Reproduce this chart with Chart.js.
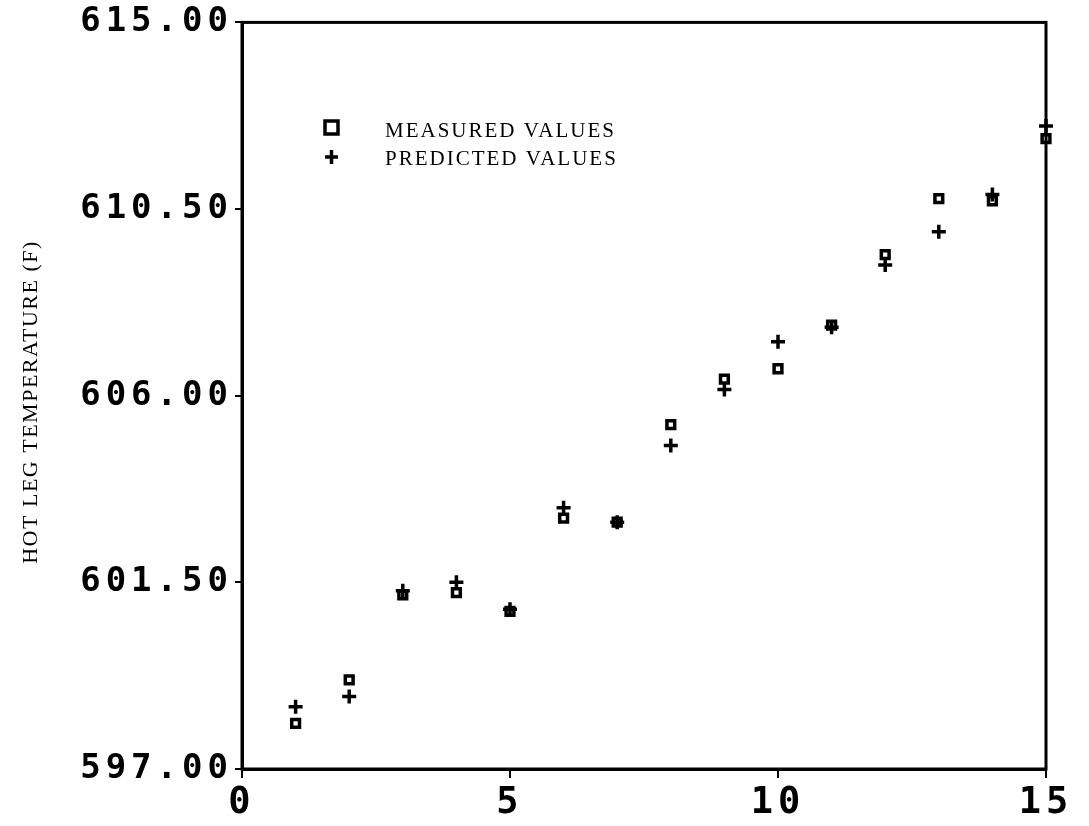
<!DOCTYPE html>
<html>
<head>
<meta charset="utf-8">
<script src="https://cdn.jsdelivr.net/npm/chart.js@4.4.1/dist/chart.umd.min.js"></script>
<style>
  html, body { margin: 0; padding: 0; background: #fff; }
  #wrap { width: 1089px; height: 826px; position: relative; }
</style>
</head>
<body>
<div id="wrap"><canvas id="chart"></canvas></div>
<script>
// ===== Data =====
const runIndex = [1, 2, 3, 4, 5, 6, 7, 8, 9, 10, 11, 12, 13, 14, 15];
const measuredValues = [598.1, 599.15, 601.2, 601.25, 600.8, 603.05, 602.95, 605.3, 606.4, 606.65, 607.7, 609.4, 610.75, 610.7, 612.2];
const predictedValues = [598.5, 598.75, 601.3, 601.5, 600.85, 603.3, 602.95, 604.8, 606.15, 607.3, 607.65, 609.15, 609.95, 610.85, 612.5];
const yTicks = [597, 601.5, 606, 610.5, 615];
const xTicks = [0, 5, 10, 15];
const yTitle = 'HOT LEG TEMPERATURE (F)';
const legendLabels = ['MEASURED VALUES', 'PREDICTED VALUES'];

const INK = '#000';
const TICK_FONT = "'DejaVu Sans Mono', monospace";
const TEXT_FONT = "'Liberation Serif', 'DejaVu Serif', serif";

// letter spacing only while the axes are drawn, then plain text
const spacingPlugin = {
    id: 'spacing',
    beforeDraw(chart) { chart.ctx.letterSpacing = '5px'; },
    beforeDatasetsDraw(chart) { chart.ctx.letterSpacing = '0px'; }
};

// box around the plot, legend inside, rotated y title
const framePlugin = {
    id: 'frame',
    afterDatasetsDraw(chart) {
        const { ctx, chartArea: a } = chart;
        ctx.save();
        ctx.letterSpacing = '0px';
        ctx.strokeStyle = INK;
        ctx.lineWidth = 3;
        ctx.strokeRect(a.left, a.top, a.right - a.left, a.bottom - a.top);
        ctx.restore();
    },
    afterDraw(chart) {
        const { ctx } = chart;
        ctx.save();
        ctx.fillStyle = INK;
        ctx.strokeStyle = INK;
        ctx.letterSpacing = '2px';
        ctx.font = '21px ' + TEXT_FONT;
        ctx.textBaseline = 'middle';
        ctx.textAlign = 'left';

        // legend
        ctx.lineWidth = 3.5;
        ctx.strokeRect(325, 121, 13, 13);
        ctx.fillText(legendLabels[0], 385, 131);
        ctx.beginPath();
        ctx.moveTo(325, 157); ctx.lineTo(338, 157);
        ctx.moveTo(331.5, 150); ctx.lineTo(331.5, 164);
        ctx.stroke();
        ctx.fillText(legendLabels[1], 385, 159);

        // y title
        ctx.font = '22px ' + TEXT_FONT;
        ctx.letterSpacing = '1.5px';
        ctx.translate(31, 402);
        ctx.rotate(-Math.PI / 2);
        ctx.textAlign = 'center';
        ctx.fillText(yTitle, 0, 0);
        ctx.restore();
    }
};

new Chart(document.getElementById('chart').getContext('2d'), {
    type: 'scatter',
    data: {
        datasets: [
            {
                label: legendLabels[0],
                data: runIndex.map((x, i) => ({ x, y: measuredValues[i] })),
                pointStyle: 'rect',
                pointRadius: 5.5,
                borderColor: INK,
                backgroundColor: 'rgba(0,0,0,0)',
                borderWidth: 3.5
            },
            {
                label: legendLabels[1],
                data: runIndex.map((x, i) => ({ x, y: predictedValues[i] })),
                pointStyle: 'cross',
                pointRadius: 7,
                borderColor: INK,
                backgroundColor: INK,
                borderWidth: 3.5
            }
        ]
    },
    options: {
        responsive: true,
        maintainAspectRatio: false,
        animation: false,
        clip: false,
        layout: { padding: { left: 0, right: 43, top: 17, bottom: 0 } },
        plugins: {
            legend: { display: false },
            tooltip: { enabled: false }
        },
        scales: {
            x: {
                type: 'linear',
                min: 0,
                max: 15,
                afterBuildTicks: (s) => { s.ticks = xTicks.map(v => ({ value: v })); },
                afterFit: (s) => { s.height = 57; s.paddingLeft = 0; s.paddingRight = 0; },
                border: { display: true, color: INK, width: 3 },
                grid: { drawOnChartArea: false, drawTicks: true, tickLength: 9, color: INK, lineWidth: 2 },
                ticks: {
                    color: INK,
                    padding: 3,
                    maxRotation: 0,
                    font: { family: TICK_FONT, size: 37, weight: 'bold' }
                }
            },
            y: {
                type: 'linear',
                min: 597,
                max: 615,
                afterBuildTicks: (s) => { s.ticks = yTicks.map(v => ({ value: v })); },
                afterFit: (s) => { s.width = 242; },
                border: { display: true, color: INK, width: 3 },
                grid: { drawOnChartArea: false, drawTicks: true, tickLength: 7, color: INK, lineWidth: 2 },
                ticks: {
                    color: INK,
                    padding: 2,
                    font: { family: TICK_FONT, size: 34, weight: 'bold' },
                    callback: (v) => Number(v).toFixed(2)
                }
            }
        }
    },
    plugins: [spacingPlugin, framePlugin]
});
</script>
</body>
</html>
